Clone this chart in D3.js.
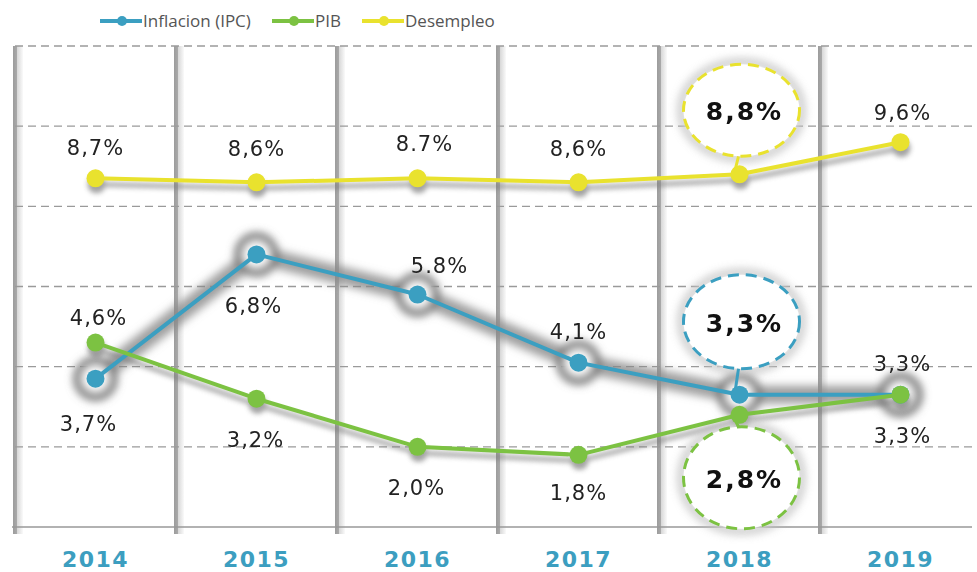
<!DOCTYPE html>
<html>
<head>
<meta charset="utf-8">
<script src="https://cdn.jsdelivr.net/npm/d3@7"></script>
<style>
  html, body { margin: 0; padding: 0; background: #fff; }
  svg { display: block; }
</style>
</head>
<body>
<div id="chart"></div>
<script>
const years = ["2014", "2015", "2016", "2017", "2018", "2019"];
const inflacion = [3.7, 6.8, 5.8, 4.1, 3.3, 3.3];
const pib = [4.6, 3.2, 2.0, 1.8, 2.8, 3.3];
const desempleo = [8.7, 8.6, 8.7, 8.6, 8.8, 9.6];
const inflacionLabels = ["3,7%", "6,8%", "5.8%", "4,1%", "3,3%", "3,3%"];
const pibLabels = ["4,6%", "3,2%", "2,0%", "1,8%", "2,8%", "3,3%"];
const desempleoLabels = ["8,7%", "8,6%", "8.7%", "8,6%", "8,8%", "9,6%"];
const gridTicks = [2, 4, 6, 8, 10, 12];
const highlightYear = "2018";

const width = 977;
const height = 572;

const colors = { inflacion: "#3b9fc1", pib: "#7cc242", desempleo: "#e9e22e" };

// label placement per point: [dx, dy] from the marker (layout only)
const place = {
  inflacion: [[-7, 52], [-3, 59], [22, -22], [0, -24], null, [2, -24]],
  pib: [[3, -18], [-1, 48], [-1, 48], [0, 45], null, [2, 48]],
  desempleo: [[0, -23], [0, -26], [7, -27], [0, -26], null, [2, -22]],
};

const x = d3.scaleBand().domain(years).range([15, 981]);
const cx = (d) => x(d) + x.bandwidth() / 2;
const y = d3.scaleLinear().domain([0, 12]).range([527, 46]);

const svg = d3
  .select("#chart")
  .append("svg")
  .attr("width", width)
  .attr("height", height)
  .style("font-family", "'DejaVu Sans', sans-serif");

const defs = svg.append("defs");
defs.append("filter").attr("id", "blur").attr("x", "-50%").attr("y", "-50%")
  .attr("width", "200%").attr("height", "200%")
  .append("feGaussianBlur").attr("stdDeviation", 4.5);
defs.append("filter").attr("id", "blurSoft").attr("x", "-50%").attr("y", "-50%")
  .attr("width", "200%").attr("height", "200%")
  .append("feGaussianBlur").attr("stdDeviation", 2.5);
const grad = defs.append("linearGradient").attr("id", "barGrad");
grad.append("stop").attr("offset", "0%").attr("stop-color", "#9c9c9c");
grad.append("stop").attr("offset", "35%").attr("stop-color", "#a8a8a8");
grad.append("stop").attr("offset", "45%").attr("stop-color", "#dadada");
grad.append("stop").attr("offset", "100%").attr("stop-color", "#fafafa");

// vertical bars between years
const edges = years.map((d) => x(d)).concat([x.range()[1]]);
svg.append("g")
  .selectAll("rect")
  .data(edges)
  .join("rect")
  .attr("x", (d) => d - 2)
  .attr("y", y(12))
  .attr("width", 10)
  .attr("height", y(0) - y(12) + 7)
  .attr("fill", "url(#barGrad)");

// dashed gridlines
svg.append("g")
  .selectAll("line")
  .data(gridTicks)
  .join("line")
  .attr("x1", 15)
  .attr("x2", width)
  .attr("y1", (d) => y(d))
  .attr("y2", (d) => y(d))
  .attr("stroke", "#9a9a9a")
  .attr("stroke-width", 1.4)
  .attr("stroke-dasharray", "8,5");

// baseline axis
const xAxis = svg.append("g")
  .attr("transform", `translate(0,${y(0)})`)
  .call(d3.axisBottom(x).tickSize(0).tickPadding(24));
xAxis.select(".domain").attr("d", `M12,0H972`).attr("stroke", "#999").attr("stroke-width", 1.6);
xAxis.selectAll("text")
  .attr("fill", "#3c9ec0")
  .style("font-family", "'DejaVu Sans', sans-serif")
  .style("font-size", "22px")
  .style("font-weight", "bold")
  .style("letter-spacing", "1.5px");

const line = (vals) => d3.line().x((d, i) => cx(years[i])).y((d) => y(d))(vals);

// halo behind the inflation series
const halo = svg.append("g").attr("filter", "url(#blur)");
halo.append("path")
  .attr("d", line(inflacion))
  .attr("fill", "none")
  .attr("stroke", "#888")
  .attr("stroke-width", 18)
  .attr("stroke-linejoin", "round")
  .attr("opacity", 0.8);
const ringData = inflacion.map((v, i) => ({ x: cx(years[i]), y: y(v) }))
  .concat([{ x: cx("2019"), y: y(pib[5]) }]);
halo.selectAll("circle")
  .data(ringData)
  .join("circle")
  .attr("cx", (d) => d.x)
  .attr("cy", (d) => d.y)
  .attr("r", 18)
  .attr("fill", "#fff")
  .attr("stroke", "#6f6f6f")
  .attr("stroke-width", 8);

// drop shadows for PIB and desempleo
const shadow = svg.append("g").attr("filter", "url(#blurSoft)").attr("opacity", 0.6);
[pib, desempleo].forEach((vals) => {
  shadow.append("path")
    .attr("d", line(vals))
    .attr("transform", "translate(0,6)")
    .attr("fill", "none")
    .attr("stroke", "#777")
    .attr("stroke-width", 5);
  shadow.selectAll(null)
    .data(vals)
    .join("circle")
    .attr("cx", (d, i) => cx(years[i]) + 1)
    .attr("cy", (d) => y(d) + 6)
    .attr("r", 9)
    .attr("fill", "#666");
});

// highlight bubbles for the last year reported
const bubbles = [
  { vals: desempleo, labels: desempleoLabels, color: colors.desempleo, dy: -64, ry: 46 },
  { vals: inflacion, labels: inflacionLabels, color: colors.inflacion, dy: -73, ry: 47 },
  { vals: pib, labels: pibLabels, color: colors.pib, dy: 63, ry: 51 },
];
const hi = years.indexOf(highlightYear);
const bg = svg.append("g");
bubbles.forEach((b) => {
  const px = cx(highlightYear);
  const py = y(b.vals[hi]);
  const by = py + b.dy;
  bg.append("ellipse")
    .attr("cx", px + 2).attr("cy", by).attr("rx", 60).attr("ry", b.ry + 2)
    .attr("fill", "#fff").attr("stroke", "#bbb").attr("stroke-width", 8)
    .attr("filter", "url(#blur)").attr("opacity", 0.8);
  bg.append("ellipse")
    .attr("cx", px + 2).attr("cy", by).attr("rx", 58).attr("ry", b.ry)
    .attr("fill", "#fff").attr("stroke", b.color).attr("stroke-width", 3)
    .attr("stroke-dasharray", "11,7");
  const edge = by + (b.dy < 0 ? b.ry : -b.ry);
  bg.append("line")
    .attr("x1", px - 1).attr("x2", px - 4)
    .attr("y1", edge).attr("y2", py + (b.dy < 0 ? -6 : 6))
    .attr("stroke", b.color).attr("stroke-width", 3);
  bg.append("text")
    .attr("x", px + 5)
    .attr("y", by + 10)
    .attr("text-anchor", "middle")
    .attr("fill", "#111")
    .style("font-size", "25px")
    .style("font-weight", "bold")
    .style("letter-spacing", "2px")
    .text(b.labels[hi]);
});

// series lines and markers
const series = [
  { key: "desempleo", vals: desempleo, labels: desempleoLabels },
  { key: "inflacion", vals: inflacion, labels: inflacionLabels },
  { key: "pib", vals: pib, labels: pibLabels },
];
series.forEach((s) => {
  const g = svg.append("g");
  g.append("path")
    .attr("d", line(s.vals))
    .attr("fill", "none")
    .attr("stroke", colors[s.key])
    .attr("stroke-width", 4)
    .attr("stroke-linejoin", "round");
  g.selectAll("circle")
    .data(s.vals)
    .join("circle")
    .attr("cx", (d, i) => cx(years[i]))
    .attr("cy", (d) => y(d))
    .attr("r", 9)
    .attr("fill", colors[s.key]);
});

// value labels
series.forEach((s) => {
  svg.append("g")
    .selectAll("text")
    .data(s.vals.map((v, i) => ({ v, i })).filter((d) => place[s.key][d.i]))
    .join("text")
    .attr("x", (d) => cx(years[d.i]) + place[s.key][d.i][0])
    .attr("y", (d) => y(d.v) + place[s.key][d.i][1])
    .attr("text-anchor", "middle")
    .attr("fill", "#222")
    .style("font-size", "21px")
    .style("letter-spacing", "1px")
    .text((d) => s.labels[d.i]);
});

// legend
const legendItems = [
  { key: "inflacion", name: "Inflacion (IPC)", x: 100 },
  { key: "pib", name: "PIB", x: 272 },
  { key: "desempleo", name: "Desempleo", x: 362 },
];
const legend = svg.append("g").selectAll("g").data(legendItems).join("g")
  .attr("transform", (d) => `translate(${d.x},21)`);
legend.append("line")
  .attr("x1", 0).attr("x2", 42)
  .attr("stroke", (d) => colors[d.key]).attr("stroke-width", 4);
legend.append("circle")
  .attr("cx", 22).attr("r", 5)
  .attr("fill", (d) => colors[d.key]);
legend.append("text")
  .attr("x", 43).attr("y", 6)
  .attr("fill", "#555")
  .style("font-family", "'Open Sans', sans-serif")
  .style("font-size", "17px")
  .text((d) => d.name);
</script>
</body>
</html>
